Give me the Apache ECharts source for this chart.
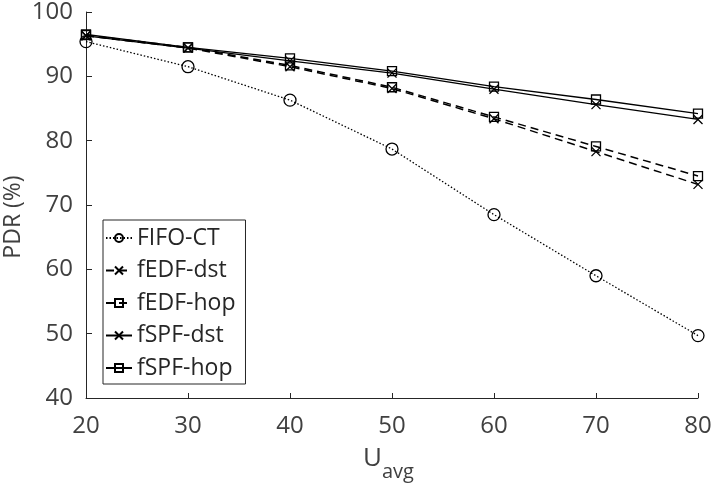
<!DOCTYPE html>
<html>
<head>
<meta charset="utf-8">
<script src="https://cdn.jsdelivr.net/npm/echarts@6/dist/echarts.min.js"></script>
<style>
html,body{margin:0;padding:0;background:#fff;}
#chart{width:717px;height:492px;}
</style>
</head>
<body>
<div id="chart"></div>
<script>
var uAvg = [20, 30, 40, 50, 60, 70, 80];
var fifoCT  = [95.4, 91.5, 86.3, 78.7, 68.5, 59.0, 49.7];
var fedfDst = [96.3, 94.4, 91.5, 88.1, 83.4, 78.3, 73.2];
var fedfHop = [96.4, 94.5, 91.7, 88.3, 83.7, 79.1, 74.5];
var fspfDst = [96.3, 94.4, 92.4, 90.5, 88.0, 85.6, 83.3];
var fspfHop = [96.5, 94.5, 92.8, 90.8, 88.4, 86.4, 84.2];
var seriesNames = ['FIFO-CT', 'fEDF-dst', 'fEDF-hop', 'fSPF-dst', 'fSPF-hop'];
var yTicks = [40, 50, 60, 70, 80, 90, 100];

function pairs(ys) { return uAvg.map(function (x, i) { return [x, ys[i]]; }); }

var FONT = '"Open Sans", "Noto Sans", sans-serif';
var XSYM = 'path://M0,0L10,10M10,0L0,10';

function mk(name, ys, lineType, symbol, size, width) {
  return {
    name: name, type: 'line', data: pairs(ys),
    symbol: symbol, symbolSize: size, showSymbol: true,
    lineStyle: { color: '#000', width: width, type: lineType },
    itemStyle: { color: symbol === XSYM ? '#000' : 'rgba(0,0,0,0)', borderColor: '#000', borderWidth: 1.3 },
    emphasis: { disabled: true },
    animation: false
  };
}

var chart = echarts.init(document.getElementById('chart'), null, { renderer: 'canvas' });
chart.setOption({
  backgroundColor: '#fff',
  animation: false,
  grid: { left: 86, right: 19, top: 12, bottom: 94 },
  legend: {
    orient: 'vertical', left: 103, top: 220,
    data: seriesNames,
    backgroundColor: '#fff', borderColor: '#262626', borderWidth: 1,
    padding: [6, 10, 4, 2], itemGap: 8.5, itemWidth: 26, itemHeight: 10,
    textStyle: { fontFamily: FONT, fontSize: 23, color: '#262626', lineHeight: 24 }
  },
  xAxis: {
    type: 'value', min: 20, max: 80, interval: 10,
    axisLine: { lineStyle: { color: '#262626', width: 1 } },
    axisTick: { inside: true, length: 5, lineStyle: { color: '#262626' } },
    axisLabel: { fontFamily: FONT, fontSize: 24, color: '#404040', margin: 16 },
    splitLine: { show: false }
  },
  yAxis: {
    type: 'value', min: yTicks[0], max: yTicks[yTicks.length - 1], interval: 10,
    axisLine: { show: true, lineStyle: { color: '#262626', width: 1 } },
    axisTick: { show: true, inside: true, length: 6, lineStyle: { color: '#262626' } },
    axisLabel: { fontFamily: FONT, fontSize: 24, color: '#404040', margin: 13 },
    splitLine: { show: false }
  },
  graphic: [
    { type: 'text', x: 13, y: 217, rotation: Math.PI / 2,
      style: { text: 'PDR (%)', font: '23px "Open Sans", sans-serif', fill: '#404040', align: 'center', verticalAlign: 'middle' } },
    { type: 'text', left: 363, top: 446, style: { text: 'U', font: '26px "Open Sans", sans-serif', fill: '#404040' } },
    { type: 'text', left: 382, top: 462, style: { text: 'avg', font: '20px "Open Sans", sans-serif', fill: '#404040' } }
  ],
  series: [
    mk(seriesNames[0], fifoCT, [1.5, 2], 'circle', 12, 1.3),
    mk(seriesNames[1], fedfDst, [8, 5], XSYM, 9, 1.5),
    mk(seriesNames[2], fedfHop, [8, 5], 'rect', 9, 1.5),
    mk(seriesNames[3], fspfDst, 'solid', XSYM, 9, 1.3),
    mk(seriesNames[4], fspfHop, 'solid', 'rect', 9, 1.3)
  ]
});
</script>
</body>
</html>
